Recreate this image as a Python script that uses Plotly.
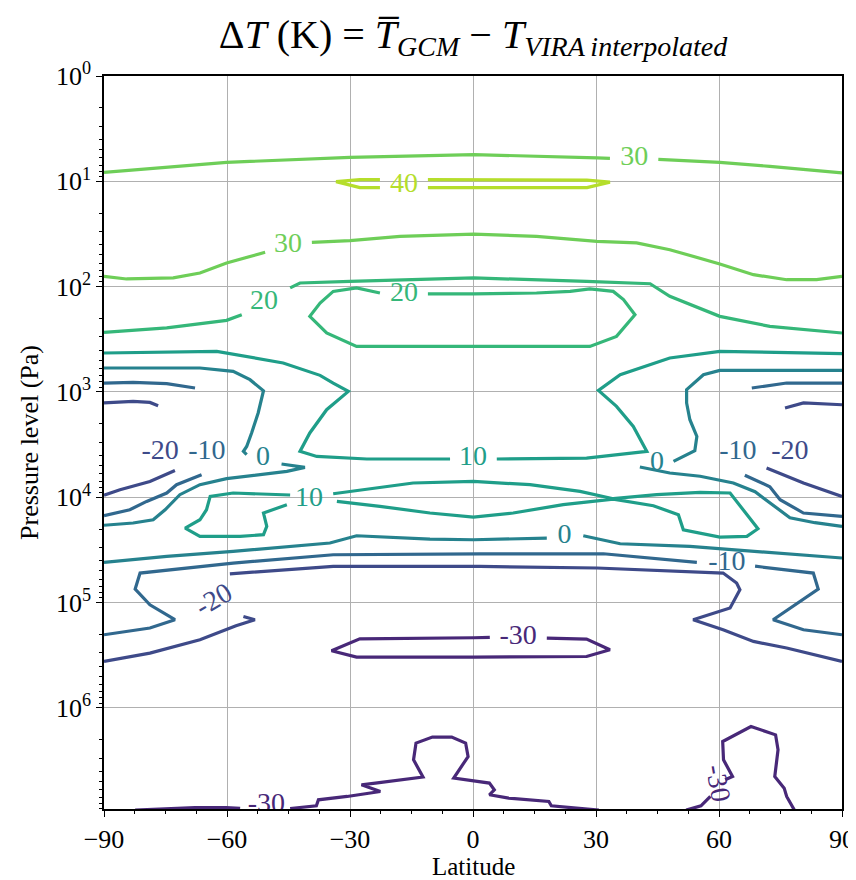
import math
import plotly.graph_objects as go

# ---------------- data ----------------
levels = [-30, -20, -10, 0, 10, 20, 30, 40]
level_colors = ["#482878", "#3e4a89", "#31688e", "#26828e",
                "#1f9e89", "#35b779", "#6ece58", "#b5de2b"]

# Contour paths: latitude (deg) and log10 of pressure (Pa).
# None separates pieces / gaps where the inline labels sit.
lat_40 = [-11.0, 0.2, 27.8, 33.4, 27.8, 0.2, -11.0, None,
          -22.7, -27.6, -33.4, -27.6, -22.7]
logp_40 = [0.984, 0.984, 0.989, 1.008, 1.060, 1.060, 1.060, None,
           1.060, 1.060, 1.003, 0.984, 0.984]

lat_30 = [-90, -76.3, -60.1, -30.0, 0.2, 30.2, 33.4, None,
          45.2, 60.2, 72.4, 90, None,
          -90, -84.5, -73.1, -66.6, -60.1, -50.7, None,
          -39.3, -30.0, -17.8, 0.2, 15.5, 30.2, 39.9, 48.0, 60.2, 68.4, 76.5, 83.8, 90]
logp_30 = [0.915, 0.870, 0.820, 0.772, 0.746, 0.778, 0.782, None,
           0.791, 0.820, 0.858, 0.920, None,
           1.902, 1.927, 1.917, 1.870, 1.775, 1.674, None,
           1.579, 1.563, 1.522, 1.501, 1.522, 1.570, 1.585, 1.649, 1.784, 1.886, 1.934, 1.934, 1.902]

lat_20 = [-90, -74.7, -60.1, -56.4, None,
          -44.6, -42.2, -30.0, 0.2, 27.7, 43.2, 48.0, 56.1, 60.2, 72.4, 90, None,
          -11.0, 0.2, 15.5, 23.7, 28.5, 34.2, 36.7, 39.5, 35.0, 28.5, 0.2, -28.4,
          -35.7, -39.8, -37.3, -34.1, -28.4, -22.7]
logp_20 = [2.434, 2.392, 2.320, 2.266, None,
           2.012, 1.965, 1.950, 1.917, 1.950, 1.972, 2.092, 2.218, 2.282, 2.377, 2.440, None,
           2.069, 2.069, 2.060, 2.045, 2.022, 2.045, 2.123, 2.266, 2.472, 2.567, 2.567, 2.567,
           2.440, 2.282, 2.155, 2.045, 2.012, 2.060]

lat_10 = [-90, -62.5, -46.3, -37.3, -34.1, -30.4, -35.7, -39.8, -42.2, -38.1, -25.9, -5.6, None,
          5.8, 27.7, 42.4, 39.1, 35.0, 30.6, 35.9, 48.0, 60.2, 90, None,
          -34.1, -26.8, -14.6, 0.1, 13.9, 26.1, 34.2, 44.8, 55.4, 62.7, 65.9, 69.5, 66.8,
          60.2, 51.3, 50.1, 44.0, 34.2, 22.0, 9.8, 0.1, -10.5, -22.7, -33.2, None,
          -45.4, -51.1, -50.3, -51.1, -56.8, -66.6, -70.2, -66.6, -65.0, -64.1, -58.5, -44.6]
logp_10 = [2.630, 2.614, 2.725, 2.842, 2.915, 2.994, 3.168, 3.389, 3.564, 3.612, 3.636, 3.636, None,
           3.636, 3.627, 3.564, 3.327, 3.137, 2.985, 2.836, 2.677, 2.614, 2.636, None,
           3.966, 3.928, 3.864, 3.849, 3.880, 3.944, 4.013, 3.975, 3.953, 3.959, 4.118, 4.298, 4.371,
           4.377, 4.308, 4.165, 4.080, 4.018, 4.070, 4.149, 4.187, 4.149, 4.086, 4.039, None,
           4.070, 4.149, 4.276, 4.355, 4.371, 4.371, 4.292, 4.213, 4.118, 3.991, 3.959, 3.978]

lat_0 = [-90, -66.6, -58.5, -54.4, -51.1, -52.4, -54.0, -55.2, -56.0, -55.2, None,
         -46.7, -41.0, -45.4, -52.0, -60.1, -66.6, -71.5, -75.1, -78.0, -82.9, -90, None,
         90, 60.2, 56.2, 52.1, 52.1, 52.9, 54.6, 54.1, 48.9, None,
         40.7, 48.0, 55.4, 63.5, 68.8, 72.4, 77.3, 83.4, 90, None,
         -90, -74.7, -58.5, -42.2, -34.9, -28.4, -10.5, 0.1, 18.0, None,
         26.9, 35.9, 52.9, 69.2, 90]
logp_0 = [2.772, 2.772, 2.804, 2.883, 2.988, 3.199, 3.389, 3.517, 3.564, 3.595, None,
          3.684, 3.716, 3.754, 3.785, 3.823, 3.880, 3.975, 4.118, 4.213, 4.244, 4.265, None,
          2.795, 2.795, 2.836, 2.978, 3.104, 3.263, 3.422, 3.557, 3.659, None,
          3.712, 3.769, 3.800, 3.864, 3.947, 4.054, 4.194, 4.241, 4.276, None,
          4.618, 4.561, 4.514, 4.460, 4.434, 4.365, 4.396, 4.403, 4.387, None,
          4.365, 4.441, 4.466, 4.514, 4.576]

lat_m10 = [-90, -82.9, -74.7, -67.8, None,
           -66.2, -72.3, -74.7, -79.6, -83.7, -87.7, -90, None,
           68.0, 76.5, 90, None,
           66.3, 72.4, 74.9, 80.6, 90, None,
           -90, -78.8, -72.7, -78.8, -82.4, -81.2, -58.5, -34.1, 1.7, 31.8, 54.6, None,
           68.8, 83.0, 84.2, 73.2, 80.6, 90]
logp_m10 = [2.915, 2.909, 2.921, 2.962, None,
            3.785, 3.880, 3.959, 4.039, 4.118, 4.156, 4.175, None,
            2.962, 2.915, 2.915, None,
            3.790, 3.899, 4.023, 4.149, 4.181, None,
            5.305, 5.241, 5.162, 5.020, 4.871, 4.719, 4.624, 4.545, 4.536, 4.536, 4.618, None,
            4.654, 4.719, 4.871, 5.162, 5.257, 5.305]

lat_m20 = [-90, -82.9, -78.8, -76.8, None,
           -72.7, -78.8, -86.1, -90, None,
           76.1, 80.6, 90, None,
           71.6, 80.6, 90, None,
           -90, -78.8, -66.6, -57.8, -53.2, -56.0, None,
           -59.3, -34.1, 1.7, 30.2, 61.0, 64.3, 65.1, 62.7, 53.7, 61.0, 68.4, 76.5, 90]
logp_m20 = [3.104, 3.089, 3.099, 3.130, None,
            3.745, 3.849, 3.928, 3.980, None,
            3.152, 3.104, 3.121, None,
            3.722, 3.864, 3.991, None,
            5.558, 5.479, 5.352, 5.219, 5.162, 5.131, None,
            4.726, 4.656, 4.656, 4.671, 4.719, 4.814, 4.877, 5.051, 5.162, 5.257, 5.368, 5.431, 5.558]

lat_m30 = [18.0, 27.7, 33.4, 27.7, 0.2, -28.4, -34.5, -27.6, 0.2, 4.1, None,
           -82.4, -67.8, -60.2, -56.8, None,
           -44.6, -38.2, -37.7, -30.7, -22.6, -27.2, -23.8, -12.2, -14.5, -13.9, -9.9, -5.2,
           -1.8, -1.2, -4.7, 4.0, 5.2, 4.0, 8.7, 18.5, 19.1, 24.9, 30.7, None,
           52.0, 55.6, 57.9, None,
           61.5, 63.3, 61.1, 60.9, 67.8, 73.8, 74.4, 73.6, 75.9, 76.5, 78.4]
logp_m30 = [5.336, 5.346, 5.447, 5.511, 5.517, 5.517, 5.457, 5.343, 5.333, 5.330, None,
            6.97, 6.945, 6.945, 6.954, None,
            6.954, 6.929, 6.872, 6.840, 6.793, 6.729, 6.713, 6.656, 6.492, 6.333, 6.276, 6.276,
            6.333, 6.461, 6.666, 6.713, 6.777, 6.824, 6.856, 6.888, 6.929, 6.951, 6.97, None,
            6.97, 6.929, 6.840, None,
            6.682, 6.651, 6.492, 6.318, 6.176, 6.255, 6.397, 6.651, 6.761, 6.840, 6.97]

lat_paths = [lat_m30, lat_m20, lat_m10, lat_0, lat_10, lat_20, lat_30, lat_40]
logp_paths = [logp_m30, logp_m20, logp_m10, logp_0, logp_10, logp_20, logp_30, logp_40]

# inline contour labels (horizontal)
label_level = [30, 40, 30, 20, 20, 10, 10, 0, 0, 0, -10, -20, -10, -20, -10, -30, -30]
label_lat = [39.3, -16.8, -45.1, -51.0, -16.8, 0.0, -40.0, -51.2, 44.9, 22.3,
             -64.9, -76.3, 64.6, 77.3, 61.9, 11.0, -50.4]
label_logp = [0.780, 1.031, 1.601, 2.142, 2.066, 3.624, 4.013, 3.624, 3.676, 4.369,
              3.567, 3.567, 3.567, 3.567, 4.624, 5.329, 6.919]
# inline contour labels (rotated)
rot_label_level = [-20, -30]
rot_label_lat = [-63.4, 59.8]
rot_label_logp = [4.972, 6.710]
rot_label_angle = [-30, 80]

x_ticks = [-90, -60, -30, 0, 30, 60, 90]
y_tick_exp = [0, 1, 2, 3, 4, 5, 6]
p_bottom = 9.1e6

# ---------------- figure ----------------
FONT = "Liberation Serif"
color_of = dict(zip(levels, level_colors))
# the page body adds an 8 px offset, so the figure is drawn 8 px smaller
FIG_W, FIG_H = 848, 872
PLOT_H = FIG_H - 68 - 71


def to_pa(vals):
    return [None if v is None else 10 ** v for v in vals]


fig = go.Figure()
for lev, lat, lp in zip(levels, lat_paths, logp_paths):
    fig.add_trace(go.Scatter(x=lat, y=to_pa(lp), mode="lines",
                             line=dict(color=color_of[lev], width=3.2),
                             hoverinfo="skip", showlegend=False, cliponaxis=True))

fig.add_trace(go.Scatter(
    x=label_lat, y=to_pa(label_logp), mode="text",
    text=[str(v) for v in label_level],
    textfont=dict(family=FONT, size=28, color=[color_of[v] for v in label_level]),
    textposition="middle center", hoverinfo="skip", showlegend=False, cliponaxis=True))

for lev, la, lp, ang in zip(rot_label_level, rot_label_lat, rot_label_logp, rot_label_angle):
    fig.add_annotation(x=la, y=lp, xref="x", yref="y", text=str(lev), showarrow=False,
                       textangle=ang, font=dict(family=FONT, size=28, color=color_of[lev]))

# x-axis title placed as a paper annotation below the tick labels
fig.add_annotation(x=0.5, y=-58 / PLOT_H, xref="paper", yref="paper", text="Latitude",
                   showarrow=False, xanchor="center", yanchor="middle",
                   font=dict(family=FONT, size=25, color="black"))

minor_vals = [k * 10 ** d for d in range(0, 7) for k in range(2, 10) if k * 10 ** d <= p_bottom]

fig.update_layout(
    width=FIG_W, height=FIG_H,
    margin=dict(l=96, r=14, t=68, b=71, autoexpand=False),
    paper_bgcolor="white", plot_bgcolor="white",
    font=dict(family=FONT, color="black"),
    title=dict(
        text="Δ<i>T</i> (K) = <i>T\u0305</i><sub><i>GCM</i></sub> − <i>T</i><sub><i>VIRA\u2009interpolated</i></sub>",
        font=dict(family=FONT, size=40, color="black"),
        x=0.5, xref="paper", xanchor="center",
        y=1 - 26 / FIG_H, yref="container", yanchor="middle"),
    xaxis=dict(
        range=[-90, 90], tickmode="array", tickvals=x_ticks, automargin=False,
        showgrid=True, gridcolor="#b0b0b0", gridwidth=1, zeroline=False,
        showline=True, linecolor="black", linewidth=1.5, mirror=True,
        ticks="outside", ticklen=6, tickwidth=1.2, tickcolor="black",
        tickfont=dict(family=FONT, size=26),
        minor=dict(dtick=7.5, tick0=-90, ticks="outside", ticklen=3.5,
                   tickwidth=1, tickcolor="black", showgrid=False)),
    yaxis=dict(
        type="log", range=[math.log10(p_bottom), 0], automargin=False,
        tickmode="array", tickvals=[10 ** e for e in y_tick_exp],
        ticktext=["10<sup>%d</sup>" % e for e in y_tick_exp],
        showgrid=True, gridcolor="#b0b0b0", gridwidth=1, zeroline=False,
        showline=True, linecolor="black", linewidth=1.5, mirror=True,
        ticks="outside", ticklen=6, tickwidth=1.2, tickcolor="black",
        tickfont=dict(family=FONT, size=26),
        minor=dict(tickmode="array", tickvals=minor_vals, ticks="outside", ticklen=3.5,
                   tickwidth=1, tickcolor="black", showgrid=False),
        title=dict(text="Pressure level (Pa)", font=dict(family=FONT, size=26), standoff=10)),
)

fig.write_html("out.html")
